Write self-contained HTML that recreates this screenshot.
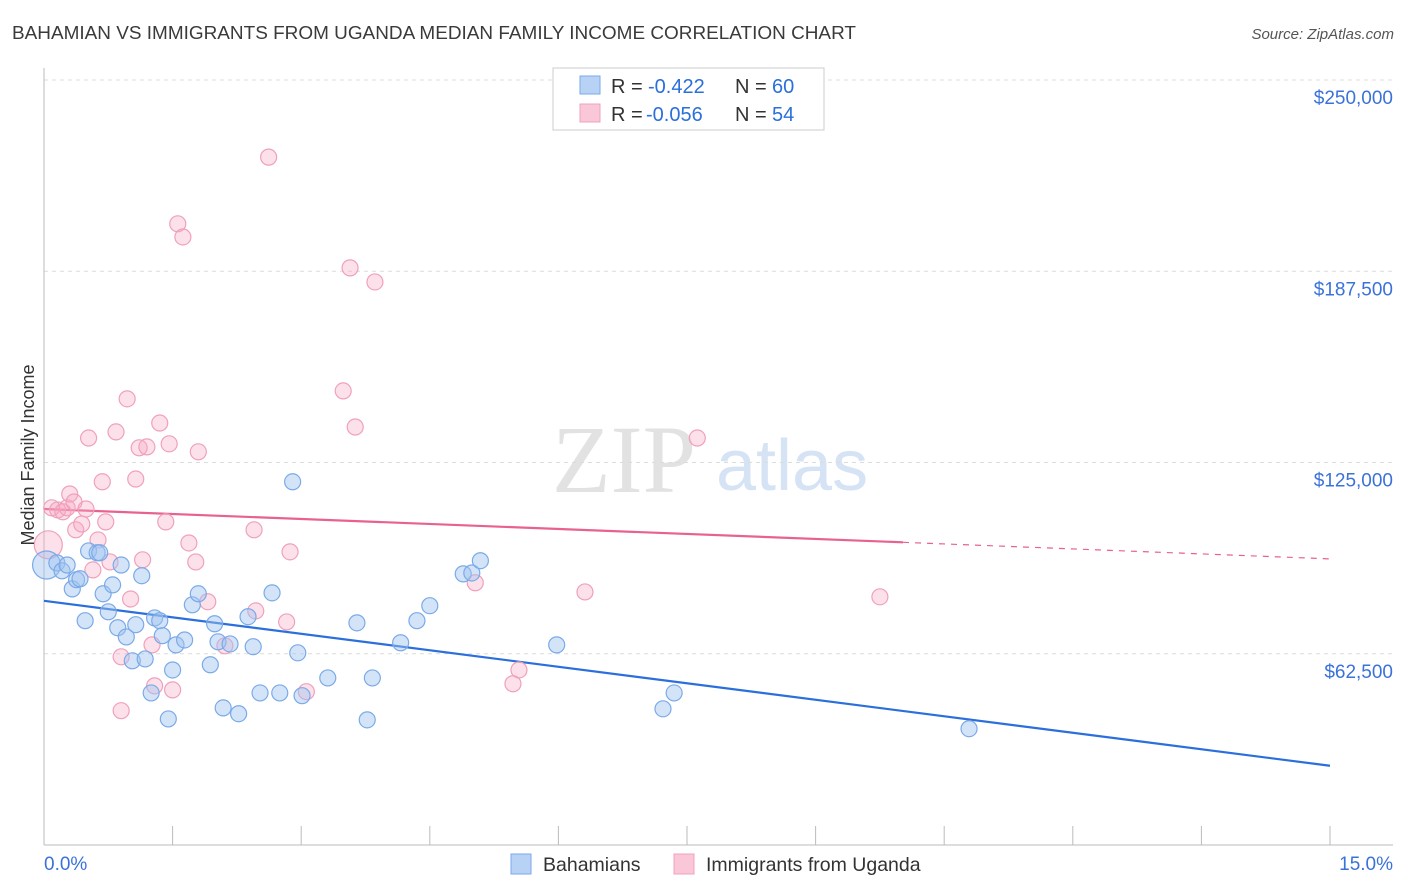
<!DOCTYPE html>
<html><head><meta charset="utf-8"><style>
body{margin:0;background:#fff;font-family:"Liberation Sans",sans-serif}
svg{display:block}
</style></head><body>
<svg id="chart" width="1406" height="892" viewBox="0 0 1406 892" xmlns="http://www.w3.org/2000/svg" font-family="Liberation Sans, sans-serif">
<text x="12" y="39" font-size="18" fill="#3a3a3a" textLength="844" lengthAdjust="spacingAndGlyphs">BAHAMIAN VS IMMIGRANTS FROM UGANDA MEDIAN FAMILY INCOME CORRELATION CHART</text>
<text x="1394" y="39" font-size="15" font-style="italic" fill="#555" text-anchor="end">Source: ZipAtlas.com</text>
<g>
<text x="552" y="492" font-size="96" font-family="Liberation Serif, serif" fill="#e2e2e2">ZIP</text>
<text x="716" y="490" font-size="72" fill="#d5e3f5">atlas</text>
</g>
<g id="grid"></g>
<g id="axes"></g>
<g id="lines"></g>
<g id="pts"></g>
<text transform="translate(34,455) rotate(-90)" font-size="18" fill="#333" text-anchor="middle">Median Family Income</text>
<g>
<rect x="553" y="68" width="271" height="62" fill="#fff" stroke="#ccc"/>
<rect x="580" y="76" width="20" height="18" fill="#b8d2f6" stroke="#7aaae8"/>
<rect x="580" y="104" width="20" height="18" fill="#f9c7d8" stroke="#f0a0bc"/>
<text x="611" y="93" font-size="20" fill="#333">R =</text>
<text x="648" y="93" font-size="20" fill="#2a6fdb">-0.422</text>
<text x="735" y="93" font-size="20" fill="#333">N =</text>
<text x="772" y="93" font-size="20" fill="#2a6fdb">60</text>
<text x="611" y="121" font-size="20" fill="#333">R =</text>
<text x="646" y="121" font-size="20" fill="#2a6fdb">-0.056</text>
<text x="735" y="121" font-size="20" fill="#333">N =</text>
<text x="772" y="121" font-size="20" fill="#2a6fdb">54</text>
</g>
<g>
<rect x="511" y="854" width="20" height="20" fill="#b8d2f6" stroke="#7aaae8"/>
<text x="543" y="871" font-size="19.5" fill="#333">Bahamians</text>
<rect x="674" y="854" width="20" height="20" fill="#f9c7d8" stroke="#f0a0bc"/>
<text x="706" y="871" font-size="19.5" fill="#333">Immigrants from Uganda</text>
</g>
</svg>
<script>
const yTicks=[62500,125000,187500,250000];
const yTickLabels=["$62,500","$125,000","$187,500","$250,000"];
const xTickLabels=["0.0%","15.0%"];
const blueX=[0.03,0.15,0.21,0.27,0.33,0.38,0.42,0.48,0.52,0.62,0.65,0.69,0.75,0.80,0.86,0.90,0.96,1.03,1.07,1.14,1.18,1.25,1.29,1.35,1.38,1.45,1.50,1.54,1.64,1.73,1.80,1.94,1.99,2.03,2.09,2.17,2.27,2.38,2.44,2.52,2.66,2.75,2.90,2.96,3.01,3.31,3.65,3.77,3.83,4.16,4.35,4.50,4.89,4.99,5.09,5.98,7.22,7.35,10.79];
const blueY=[91.5,92.2,89.6,91.5,83.7,86.7,87.0,73.3,96.1,95.5,95.5,82.1,76.2,85.0,71.0,91.5,68.0,60.2,72.0,88.0,60.8,49.7,74.2,73.3,68.4,41.2,57.2,65.4,67.0,78.5,82.1,58.9,72.3,66.4,44.8,65.7,42.9,74.6,64.8,49.7,82.4,49.7,118.7,62.8,48.8,54.6,72.6,40.9,54.6,66.1,73.3,78.2,88.6,88.9,92.9,65.4,44.5,49.7,38.0];
const pinkX=[0.05,0.09,0.16,0.22,0.27,0.30,0.35,0.37,0.44,0.49,0.52,0.57,0.63,0.68,0.72,0.77,0.84,0.90,0.90,0.97,1.01,1.07,1.11,1.15,1.20,1.26,1.29,1.35,1.42,1.46,1.50,1.56,1.62,1.69,1.77,1.80,1.91,2.11,2.45,2.47,2.62,2.83,2.87,3.06,3.49,3.57,3.63,3.86,5.03,5.47,5.54,6.31,7.62,9.75];
const pinkY=[98.1,110.2,109.5,108.9,110.2,114.7,112.1,103.0,104.9,109.8,133.0,89.9,99.7,118.7,105.6,92.5,135.0,61.5,43.9,145.8,80.4,119.6,129.8,93.2,130.1,65.4,52.0,137.9,105.6,131.1,50.7,203.0,198.7,98.7,92.5,128.5,79.5,65.1,103.0,76.5,224.8,72.9,95.8,50.1,148.4,188.6,136.6,184.0,85.7,52.7,57.2,82.7,133.0,81.1];
const blueTrend=[79.8,25.9];
const pinkTrend=[109.8,93.5];
const pinkSolidEnd=10.02;

const NS="http://www.w3.org/2000/svg";
const X=v=>44+v/15*1286;
const Y=v=>845-v/250000*765;
function mk(tag,attrs,parent){const e=document.createElementNS(NS,tag);for(const k in attrs)e.setAttribute(k,attrs[k]);parent.appendChild(e);return e;}
const grid=document.getElementById('grid'),axes=document.getElementById('axes'),lines=document.getElementById('lines'),pts=document.getElementById('pts');
yTicks.forEach((t,i)=>{
  const g=mk('line',{x1:44,x2:1393,y1:Y(t),y2:Y(t),stroke:'#dcdcdc','stroke-dasharray':'4,4'},grid);
  
  
  const l=mk('text',{x:1393,y:Y(t)+24,'font-size':19,fill:'#3b72d9','text-anchor':'end'},axes);
  l.textContent=yTickLabels[i];
  
  
});
const ax1=mk('line',{x1:44,x2:44,y1:68,y2:845,stroke:'#bbb'},axes);


const ax2=mk('line',{x1:44,x2:1393,y1:845,y2:845,stroke:'#bbb'},axes);


for(let i=1;i<=10;i++){
  const t=mk('line',{x1:X(i*1.5),x2:X(i*1.5),y1:826,y2:845,stroke:'#bbb'},axes);
  
  
}
const xl0=mk('text',{x:44,y:870,'font-size':19,fill:'#3b72d9'},axes);xl0.textContent=xTickLabels[0];


const xl1=mk('text',{x:1393,y:870,'font-size':19,fill:'#3b72d9','text-anchor':'end'},axes);xl1.textContent=xTickLabels[1];



function dots(xs,ys,fill,stroke,name){
  xs.forEach((x,i)=>{
    const r=i===0?14:8;
    const c=mk('circle',{cx:X(x),cy:Y(ys[i]*1000),r:r,fill:fill,stroke:stroke,'stroke-width':1.2},pts);
    
    
  });
}
dots(pinkX,pinkY,'rgba(245,170,195,0.35)','#f0a0bc','uganda-point');
dots(blueX,blueY,'rgba(160,195,240,0.45)','#7aaae8','bahamian-point');

const bl=mk('line',{x1:X(0),y1:Y(blueTrend[0]*1000),x2:X(15),y2:Y(blueTrend[1]*1000),stroke:'#2a6fdb','stroke-width':2.2},lines);


const pm=v=>pinkTrend[0]+(pinkTrend[1]-pinkTrend[0])*v/15;
const pl=mk('line',{x1:X(0),y1:Y(pinkTrend[0]*1000),x2:X(pinkSolidEnd),y2:Y(pm(pinkSolidEnd)*1000),stroke:'#e8628e','stroke-width':2.2},lines);


const pd=mk('line',{x1:X(pinkSolidEnd),y1:Y(pm(pinkSolidEnd)*1000),x2:X(15),y2:Y(pinkTrend[1]*1000),stroke:'#e8628e','stroke-width':1.2,'stroke-dasharray':'6,6'},lines);


</script>
</body></html>
